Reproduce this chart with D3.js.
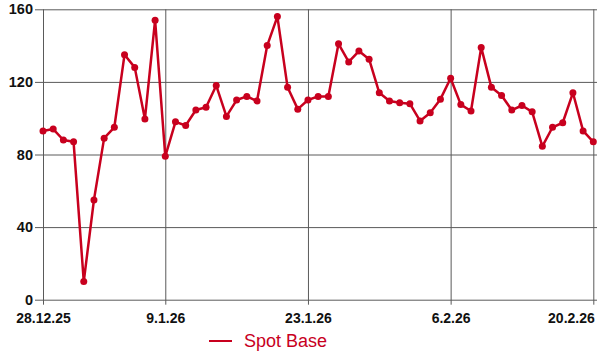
<!DOCTYPE html>
<html>
<head>
<meta charset="utf-8">
<script src="https://cdn.jsdelivr.net/npm/d3@7/dist/d3.min.js"></script>
<style>
  html, body { margin: 0; padding: 0; background: #fff; }
  svg { display: block; }
</style>
</head>
<body>
<svg id="chart" width="597" height="354"></svg>
<script>
// Daily spot base price, 28.12.2025 – 20.02.2026
const startDate = "2025-12-28";
const spotBase = [
  93, 94, 88, 87, 10, 55, 89, 95, 135, 128,
  99.5, 154, 79, 98, 96, 104.5, 106, 118, 101, 110,
  112, 109.5, 140, 156, 117, 105, 110, 112, 112, 141,
  131, 137, 132.5, 114, 109.5, 108.5, 108, 98.5, 103, 110.5,
  122, 107.5, 104, 139, 117, 112.5, 104.5, 107, 103.5, 84.5,
  95, 97.5, 114, 93, 87
];
const yTicks = [0, 40, 80, 120, 160];
const xTickDates = ["2025-12-28", "2026-01-09", "2026-01-23", "2026-02-06", "2026-02-20"];
const seriesName = "Spot Base";

const parse = d3.utcParse("%Y-%m-%d");
const fmt = d => `${d.getUTCDate()}.${d.getUTCMonth() + 1}.${String(d.getUTCFullYear()).slice(2)}`;
const day0 = parse(startDate);
const data = spotBase.map((v, i) => ({ date: d3.utcDay.offset(day0, i), value: v }));
const xTicks = xTickDates.map(parse);

const svg = d3.select("#chart");
const red = "#c8001e";
const gridColor = "#5a5a5a";
const plotLeft = 43, plotRight = 593.3, plotTop = 9.3, plotBottom = 299.7;
const labelFont = "'Liberation Sans', Arial, sans-serif";

const x = d3.scaleUtc().domain([day0, data[data.length - 1].date]).range([plotLeft, plotRight]);
const y = d3.scaleLinear().domain([0, 160]).range([plotBottom, plotTop]);

// horizontal grid with short ticks left of the axis
const yAxis = d3.axisLeft(y).tickValues(yTicks).tickSize(-(597 - plotLeft)).tickPadding(10).tickFormat(d3.format("d"));
const gy = svg.append("g").attr("transform", `translate(${plotLeft},0)`).call(yAxis);
gy.select(".domain").remove();
gy.selectAll(".tick line").attr("x1", -8).attr("stroke", gridColor).attr("stroke-width", 1);
gy.selectAll(".tick text")
  .attr("x", -10)
  .style("font-family", labelFont)
  .style("font-weight", "bold").style("font-size", "14.5px").attr("fill", "#111");

// vertical grid at date ticks, extending slightly below the axis
const xAxis = d3.axisBottom(x).tickValues(xTicks).tickSize(-(plotBottom - plotTop)).tickPadding(13).tickFormat(fmt);
const gx = svg.append("g").attr("transform", `translate(0,${plotBottom})`).call(xAxis);
gx.select(".domain").remove();
gx.selectAll(".tick line").attr("y1", 5).attr("stroke", gridColor).attr("stroke-width", 1);
gx.selectAll(".tick text")
  .style("font-family", labelFont)
  .style("font-weight", "bold").style("font-size", "14px").attr("fill", "#111");
// keep the last label inside the plot
gx.selectAll(".tick text").filter((d, i, n) => i === n.length - 1).attr("text-anchor", "end").attr("x", 1);

// series line and markers
const line = d3.line().x(d => x(d.date)).y(d => y(d.value));
svg.append("path").datum(data)
  .attr("d", line).attr("fill", "none").attr("stroke", red)
  .attr("stroke-width", 2.5).attr("stroke-linejoin", "round");
svg.append("g").selectAll("circle").data(data).join("circle")
  .attr("cx", d => x(d.date)).attr("cy", d => y(d.value)).attr("r", 3.5).attr("fill", red);

// legend
const lg = svg.append("g").attr("transform", "translate(209,341)");
lg.append("line").attr("x1", 0).attr("x2", 23).attr("stroke", red).attr("stroke-width", 2);
lg.append("text").attr("x", 35).attr("y", 6).text(seriesName)
  .style("font-family", labelFont).style("font-size", "18px").attr("fill", red);
</script>
</body>
</html>
